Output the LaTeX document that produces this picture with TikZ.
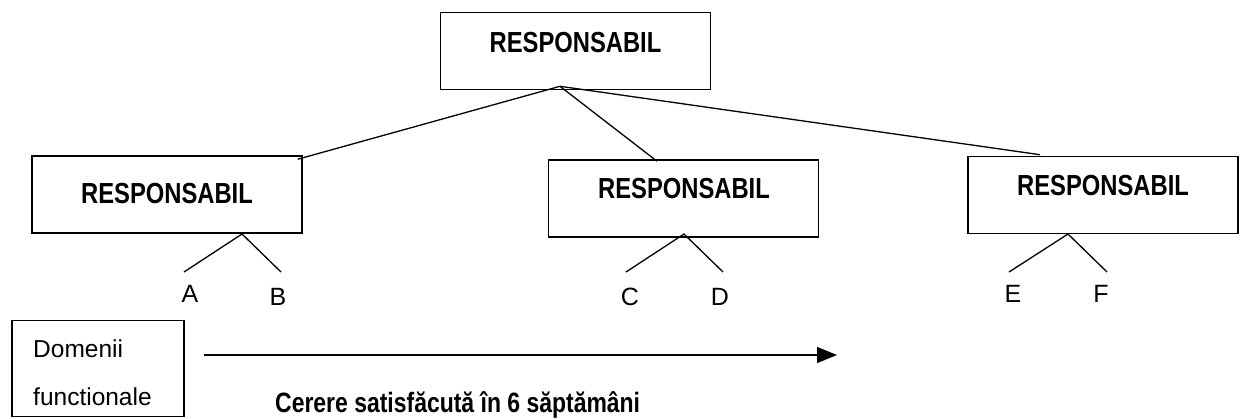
\documentclass[tikz,border=0pt]{standalone}
\usepackage{fontspec}
\setmainfont{Liberation Sans}
\newfontfamily\narrowsans{Liberation Sans}[FakeStretch=0.82]
\usetikzlibrary{arrows.meta,calc}
\begin{document}
\begin{tikzpicture}[x=1pt,y=-1pt,
  box/.style={draw, line width=1.6pt, inner sep=0pt, minimum width=270pt, minimum height=77pt},
  conn/.style={line width=1.3pt},
  head/.style={font=\narrowsans\bfseries\fontsize{29}{34}\selectfont, anchor=base, inner sep=0pt},
  leaf/.style={font=\fontsize{25}{29}\selectfont, anchor=base, inner sep=0pt},
  plain/.style={font=\fontsize{24.5}{28}\selectfont, anchor=base west, inner sep=0pt},
  note/.style={font=\narrowsans\bfseries\fontsize{28}{32}\selectfont, anchor=base west, inner sep=0pt}
]
\useasboundingbox (0,0) rectangle (1243,418);

% boxes
\node[box] (top) at (575.5,51) {};
\node[box] (lft) at (167,194.5) {};
\node[box] (mid) at (683.5,198.5) {};
\node[box] (rgt) at (1103,195) {};
\node[draw, line width=1.6pt, inner sep=0pt, minimum width=172pt, minimum height=96pt] (dom) at (98,368.5) {};

% box titles
\node[head] (ttop) at (575.5,52) {RESPONSABIL};
\node[head] (tlft) at (167,203) {RESPONSABIL};
\node[head] (tmid) at (684,198) {RESPONSABIL};
\node[head] (trgt) at (1103,195) {RESPONSABIL};

% connectors from the top box
\coordinate (apex) at ([xshift=-15.5pt,yshift=4pt]top.south);
\coordinate (inL) at ([xshift=-5pt,yshift=-4pt]lft.north east);
\coordinate (inM) at ([xshift=-26.5pt,yshift=-2pt]mid.north);
\coordinate (inR) at ([xshift=-63pt,yshift=1pt]rgt.north);
\draw[conn] (apex) -- (inL);
\draw[conn] (apex) -- (inM);
\draw[conn] (apex) -- (inR);

% leaves
\node[leaf] (A) at (190,302) {A};
\node[leaf] (B) at (278,305) {B};
\node[leaf] (C) at (630,305) {C};
\node[leaf] (D) at (720,305) {D};
\node[leaf] (E) at (1013,302) {E};
\node[leaf] (F) at (1101,302) {F};

\coordinate (pL) at (242,234);
\coordinate (pM) at (684,234);
\coordinate (pR) at (1068,234);
\coordinate (eA) at (184,272);
\coordinate (eB) at (281,272);
\coordinate (eC) at (626,272);
\coordinate (eD) at (723,272);
\coordinate (eE) at (1009,272);
\coordinate (eF) at (1107,272);
\draw[conn] (eA) -- (pL) -- (eB);
\draw[conn] (eC) -- (pM) -- (eD);
\draw[conn] (eE) -- (pR) -- (eF);

% bottom part
\node[plain] (dom1) at (33,357) {Domenii};
\node[plain] (dom2) at (33,405) {functionale};
\coordinate (arrS) at ([xshift=19pt,yshift=13.5pt]dom.east);
\coordinate (arrE) at (837,355);
\draw[conn,-{Triangle[length=20pt,width=16pt]}] (arrS) -- (arrE);
\node[note] (cerere) at (275,412) {Cerere satisfăcută în 6 săptămâni};
\end{tikzpicture}
\end{document}
